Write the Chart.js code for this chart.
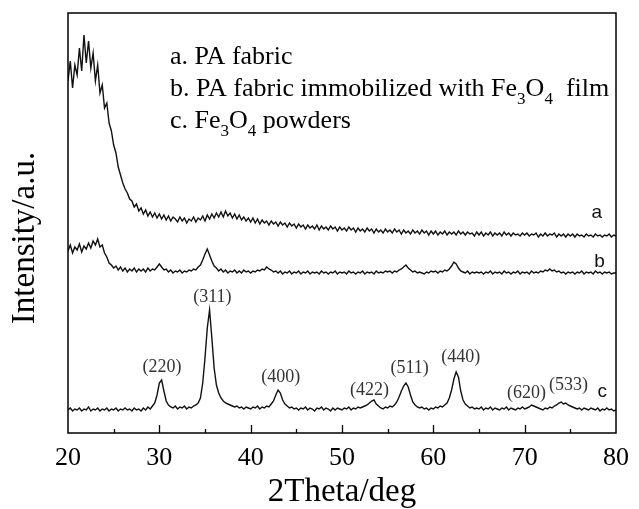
<!DOCTYPE html>
<html>
<head>
<meta charset="utf-8">
<script src="https://cdn.jsdelivr.net/npm/chart.js@4"></script>
<style>
  html, body { margin: 0; padding: 0; background: #fff; }
  #wrap { width: 639px; height: 509px; }
</style>
</head>
<body>
<div id="wrap"><canvas id="xrd" width="639" height="509"></canvas></div>
<script>
// 2theta scan grid, 20..80 deg in 0.25 deg steps
const twoTheta = [];
for (let i = 0; i <= 240; i++) twoTheta.push(20 + i * 0.25);

// a. PA fabric (offset, arb. units)
const curveA = [
  352, 372, 345, 368, 358, 385, 362, 398, 370, 392, 365, 380, 352, 368, 340, 348, 325, 330, 310, 302,
  288, 280, 266, 258, 250, 244, 240, 234, 232, 226, 229, 222, 225, 219, 223, 217, 221, 216, 220, 215,
  219, 214, 218, 213, 217, 212, 216, 214, 211, 216, 212, 215, 210, 214, 212, 216, 211, 215, 213, 217,
  212, 218, 214, 219, 215, 220, 216, 221, 216, 222, 217, 220, 215, 219, 214, 218, 213, 216, 212, 215,
  211, 215, 210, 214, 209, 213, 210, 212, 208, 212, 209, 211, 207, 211, 208, 210, 206, 210, 207, 209,
  205, 209, 206, 208, 204, 208, 205, 207, 204, 208, 203, 207, 204, 206, 203, 207, 204, 206, 202, 206,
  203, 205, 202, 206, 203, 205, 201, 205, 202, 204, 201, 205, 202, 204, 200, 204, 201, 203, 200, 204,
  201, 203, 200, 204, 201, 203, 199, 203, 200, 202, 199, 203, 200, 202, 199, 203, 200, 202, 198, 202,
  199, 202, 198, 201, 199, 202, 198, 201, 199, 201, 198, 202, 199, 201, 198, 201, 199, 200, 197, 201,
  198, 201, 197, 200, 198, 201, 197, 200, 198, 200, 197, 201, 198, 200, 197, 200, 198, 199, 197, 200,
  198, 200, 197, 199, 198, 200, 196, 199, 197, 200, 197, 199, 198, 200, 196, 199, 197, 199, 196, 199,
  197, 199, 196, 199, 197, 198, 196, 199, 197, 198, 196, 199, 197, 198, 196, 198, 197, 199, 196, 198,
  197
];

// b. PA fabric immobilized with Fe3O4 film
const curveB = [
  182, 188, 180, 186, 183, 189, 181, 187, 184, 190, 185, 192, 188, 194, 186, 188, 180, 176, 170, 168,
  165, 167, 163, 166, 162, 165, 161, 164, 162, 165, 161, 164, 162, 164, 161, 165, 162, 164, 163, 166,
  169, 166, 163, 164, 161, 163, 160, 162, 161, 163, 160, 162, 161, 163, 162, 164, 163, 166, 168, 173,
  179, 184, 178, 172, 167, 165, 162, 164, 161, 163, 160, 162, 161, 163, 160, 162, 160, 163, 161, 162,
  160, 162, 161, 163, 162, 164, 163, 166, 164, 163, 161, 162, 160, 162, 159, 161, 160, 162, 159, 161,
  160, 162, 159, 161, 160, 162, 159, 161, 160, 161, 159, 162, 160, 161, 159, 161, 160, 162, 159, 161,
  160, 161, 159, 162, 160, 161, 159, 161, 160, 162, 159, 161, 160, 161, 159, 162, 160, 161, 160, 162,
  161, 162, 160, 162, 161, 163, 164, 166, 168, 165, 163, 161, 162, 160, 161, 160, 159, 161, 160, 162,
  161, 162, 160, 162, 161, 163, 162, 164, 167, 171, 169, 165, 162, 161, 160, 162, 159, 161, 160, 161,
  160, 161, 159, 161, 160, 162, 159, 161, 160, 161, 159, 162, 160, 161, 159, 161, 160, 162, 159, 161,
  160, 161, 159, 162, 160, 161, 160, 162, 161, 163, 162, 164, 162, 163, 161, 162, 160, 161, 159, 161,
  160, 161, 159, 161, 160, 162, 159, 161, 160, 161, 159, 162, 160, 161, 159, 161, 160, 161, 159, 160,
  160
];

// c. Fe3O4 powders
const curveC = [
  23, 25, 22, 24, 23, 25, 22, 24, 23, 26, 22, 24, 23, 25, 22, 24, 23, 25, 22, 24,
  23, 25, 22, 24, 23, 25, 23, 24, 22, 25, 23, 24, 22, 25, 23, 26, 24, 27, 30, 38,
  50, 53, 42, 32, 28, 26, 25, 27, 24, 26, 25, 27, 24, 26, 25, 27, 28, 30, 35, 50,
  75, 105, 123, 95, 65, 48, 40, 35, 32, 30, 29, 28, 27, 26, 27, 25, 26, 24, 26, 25,
  24, 26, 25, 27, 24, 26, 25, 27, 26, 29, 32, 38, 43, 40, 33, 29, 27, 25, 26, 24,
  25, 23, 25, 24, 26, 23, 25, 24, 22, 25, 24, 26, 23, 25, 24, 22, 25, 23, 25, 24,
  23, 25, 24, 26, 23, 25, 24, 26, 25, 26, 27, 28, 30, 32, 33, 29, 27, 25, 24, 26,
  25, 27, 26, 28, 31, 36, 42, 47, 50, 46, 38, 31, 28, 26, 25, 26, 24, 25, 23, 25,
  24, 26, 25, 27, 26, 28, 30, 35, 43, 54, 61, 56, 42, 33, 29, 27, 25, 26, 24, 25,
  24, 26, 23, 25, 24, 26, 23, 25, 24, 23, 25, 24, 26, 23, 25, 24, 23, 25, 24, 26,
  24, 25, 26, 28, 27, 26, 25, 24, 23, 25, 24, 26, 25, 27, 28, 30, 31, 29, 30, 28,
  27, 26, 25, 24, 25, 23, 25, 24, 23, 25, 24, 23, 25, 22, 24, 23, 25, 23, 24, 22,
  23
];

// Miller index labels of the Fe3O4 reflections
const peakNames = ['(220)', '(311)', '(400)', '(422)', '(511)', '(440)', '(620)', '(533)'];
const peakAt = [30.3, 35.8, 43.3, 53.0, 57.4, 63.0, 70.2, 74.8];
const peakLabelY = [66, 136, 56, 43, 65, 76, 40, 48];

const curveNames = ['a', 'b', 'c'];
const curveLabelX = [77.9, 78.2, 78.5];
const curveLabelY = [220, 171, 41];

const SERIF = "'Liberation Serif', 'Times New Roman', serif";
Chart.defaults.font.family = SERIF;
Chart.defaults.color = '#000';

const toXY = arr => arr.map((v, i) => ({ x: twoTheta[i], y: v }));

function drawRich(ctx, parts, x, base) {
  parts.forEach(p => {
    const sub = p[1];
    ctx.font = (sub ? '17px ' : '26px ') + SERIF;
    ctx.fillText(p[0], x, sub ? base + 8 : base);
    x += ctx.measureText(p[0]).width;
  });
}

const overlay = {
  id: 'overlay',
  beforeDraw(chart) {
    const ctx = chart.ctx;
    ctx.save();
    ctx.fillStyle = '#fff';
    ctx.fillRect(0, 0, chart.width, chart.height);
    ctx.restore();
  },
  afterDraw(chart) {
    const { ctx, chartArea: a, scales: { x, y } } = chart;
    ctx.save();

    // frame
    ctx.strokeStyle = '#000';
    ctx.lineWidth = 1.5;
    ctx.strokeRect(a.left, a.top, a.right - a.left, a.bottom - a.top);

    // inward ticks on the bottom axis
    ctx.lineWidth = 1.3;
    for (let v = 25; v < 80; v += 5) {
      const px = Math.round(x.getPixelForValue(v)) + 0.5;
      const len = v % 10 === 0 ? 8 : 4;
      ctx.beginPath();
      ctx.moveTo(px, a.bottom);
      ctx.lineTo(px, a.bottom - len);
      ctx.stroke();
    }

    // peak labels
    ctx.fillStyle = '#333';
    ctx.font = '18px ' + SERIF;
    ctx.textAlign = 'center';
    ctx.textBaseline = 'middle';
    peakNames.forEach((t, i) => {
      ctx.fillText(t, x.getPixelForValue(peakAt[i]), y.getPixelForValue(peakLabelY[i]));
    });

    // curve letters
    ctx.fillStyle = '#111';
    ctx.font = "19px 'Liberation Sans', Arial, sans-serif";
    curveNames.forEach((t, i) => {
      ctx.fillText(t, x.getPixelForValue(curveLabelX[i]), y.getPixelForValue(curveLabelY[i]));
    });

    // legend text
    ctx.fillStyle = '#000';
    ctx.textAlign = 'left';
    ctx.textBaseline = 'alphabetic';
    const lx = a.left + 102;
    drawRich(ctx, [['a. PA fabric']], lx, 64);
    drawRich(ctx, [['b. PA fabric immobilized with Fe'], ['3', 1], ['O'], ['4', 1], ['  film']], lx, 96);
    drawRich(ctx, [['c. Fe'], ['3', 1], ['O'], ['4', 1], [' powders']], lx, 128);

    // y axis title
    ctx.translate(25, 238);
    ctx.rotate(-Math.PI / 2);
    ctx.textAlign = 'center';
    ctx.textBaseline = 'middle';
    ctx.font = '33px ' + SERIF;
    ctx.fillText('Intensity/a.u.', 0, 0);

    ctx.restore();
  }
};

const lineStyle = {
  borderColor: '#111',
  borderWidth: 1.4,
  pointRadius: 0,
  tension: 0,
  fill: false
};

new Chart(document.getElementById('xrd'), {
  type: 'line',
  data: {
    datasets: [
      Object.assign({ label: 'a', data: toXY(curveA) }, lineStyle),
      Object.assign({ label: 'b', data: toXY(curveB) }, lineStyle),
      Object.assign({ label: 'c', data: toXY(curveC) }, lineStyle)
    ]
  },
  options: {
    responsive: false,
    animation: false,
    layout: { padding: { left: 68, right: 13, top: 13, bottom: 0 } },
    plugins: { legend: { display: false }, tooltip: { enabled: false } },
    scales: {
      x: {
        type: 'linear',
        min: 20,
        max: 80,
        afterFit: s => { s.height = 76; },
        grid: { display: false, drawTicks: false },
        border: { display: false },
        ticks: {
          stepSize: 10,
          color: '#000',
          padding: 10,
          maxRotation: 0,
          font: { family: SERIF, size: 26 }
        },
        title: {
          display: true,
          text: '2Theta/deg',
          color: '#000',
          padding: { top: 0, bottom: 0 },
          font: { family: SERIF, size: 33, lineHeight: 1 }
        }
      },
      y: {
        display: false,
        min: 0,
        max: 420
      }
    }
  },
  plugins: [overlay]
});
</script>
</body>
</html>
